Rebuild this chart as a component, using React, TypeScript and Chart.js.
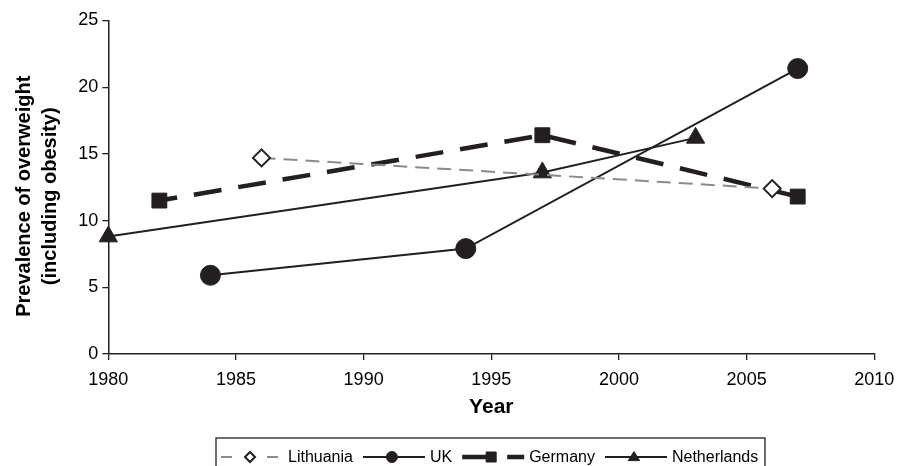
import { useEffect, useRef } from 'react';
import { Chart, registerables } from 'chart.js';

Chart.register(...registerables);

// Survey years and prevalence (%) per country
const lithuaniaYears = [1986, 2006];
const lithuaniaValues = [14.7, 12.4];

const ukYears = [1984, 1994, 2007];
const ukValues = [5.9, 7.9, 21.4];

const germanyYears = [1982, 1997, 2007];
const germanyValues = [11.5, 16.4, 11.8];

const netherlandsYears = [1980, 1997, 2003];
const netherlandsValues = [8.8, 13.6, 16.2];

const xMin = 1980;
const xMax = 2010;
const xStep = 5;
const yMin = 0;
const yMax = 25;
const yStep = 5;

const xTitle = 'Year';
const yTitle = ['Prevalence of overweight', '(including obesity)'];

const INK = '#231f20';
const GREY = '#8a8a8a';
const FONT = '"Liberation Sans", Arial, Helvetica, sans-serif';

const toPoints = (xs: number[], ys: number[]) => xs.map((x, i) => ({ x, y: ys[i] }));

type Marker = 'circle' | 'rect' | 'rectRot' | 'triangle';

function drawMarker(
  ctx: CanvasRenderingContext2D,
  style: Marker,
  x: number,
  y: number,
  r: number,
  fill: string,
  stroke: string,
  lw: number
) {
  ctx.save();
  ctx.setLineDash([]);
  ctx.beginPath();
  if (style === 'circle') {
    ctx.arc(x, y, r, 0, Math.PI * 2);
  } else if (style === 'rect') {
    ctx.rect(x - r, y - r, 2 * r, 2 * r);
  } else if (style === 'rectRot') {
    ctx.moveTo(x - r, y);
    ctx.lineTo(x, y - r);
    ctx.lineTo(x + r, y);
    ctx.lineTo(x, y + r);
    ctx.closePath();
  } else {
    const h = r * 1.5;
    ctx.moveTo(x, y - h * 0.6);
    ctx.lineTo(x + r * 0.95, y + h * 0.4);
    ctx.lineTo(x - r * 0.95, y + h * 0.4);
    ctx.closePath();
  }
  ctx.fillStyle = fill;
  ctx.fill();
  ctx.lineWidth = lw;
  ctx.strokeStyle = stroke;
  ctx.stroke();
  ctx.restore();
}

// Sample line look inside the boxed legend, per series label
const legendLook: Record<string, { dash: number[]; marker: Marker; r: number; fill: string }> = {
  Lithuania: { dash: [11, 35], marker: 'rectRot', r: 5, fill: '#ffffff' },
  UK: { dash: [], marker: 'circle', r: 5.5, fill: INK },
  Germany: { dash: [30, 15], marker: 'rect', r: 5, fill: INK },
  Netherlands: { dash: [], marker: 'triangle', r: 6, fill: INK },
};

const boxLegend = {
  id: 'boxLegend',
  afterDraw(chart: Chart) {
    const ctx = chart.ctx;
    const left = 216;
    const right = 765;
    const top = 438;
    const cy = 457;
    const sample = 62;
    ctx.save();
    ctx.strokeStyle = INK;
    ctx.lineWidth = 1.3;
    ctx.strokeRect(left, top, right - left, 40);
    ctx.font = `16px ${FONT}`;
    ctx.textBaseline = 'middle';
    ctx.textAlign = 'left';
    let x = 221;
    chart.data.datasets.forEach((ds: any) => {
      const look = legendLook[ds.label];
      ctx.save();
      ctx.beginPath();
      ctx.setLineDash(look.dash);
      ctx.strokeStyle = ds.borderColor;
      ctx.lineWidth = ds.borderWidth;
      ctx.moveTo(x, cy);
      ctx.lineTo(x + sample, cy);
      ctx.stroke();
      ctx.restore();
      drawMarker(ctx, look.marker, x + sample / 2 - 2, cy, look.r, look.fill, INK, look.marker === 'rectRot' ? 2 : 1);
      ctx.fillStyle = '#000';
      ctx.fillText(ds.label, x + sample + 5, cy + 1);
      x += sample + 5 + ctx.measureText(ds.label).width + 10;
    });
    ctx.restore();
  },
};

// Two-line rotated title for the value axis, centred a little below the axis middle
const valueAxisTitle = {
  id: 'valueAxisTitle',
  afterDraw(chart: Chart) {
    const ctx = chart.ctx;
    const area = chart.chartArea;
    const cy = (area.top + area.bottom) / 2 + 9;
    ctx.save();
    ctx.font = `bold 20px ${FONT}`;
    ctx.fillStyle = '#000';
    ctx.textAlign = 'center';
    ctx.textBaseline = 'middle';
    ctx.translate(0, cy);
    ctx.rotate(-Math.PI / 2);
    yTitle.forEach((line, i) => {
      ctx.fillText(line, 0, 24 + i * 26);
    });
    ctx.restore();
  },
};

export default function App() {
  const canvasRef = useRef<HTMLCanvasElement | null>(null);

  useEffect(() => {
    if (!canvasRef.current) return;
    const chart = new Chart(canvasRef.current, {
      type: 'line',
      data: {
        datasets: [
          {
            label: 'Lithuania',
            data: toPoints(lithuaniaYears, lithuaniaValues),
            borderColor: GREY,
            borderWidth: 2,
            borderDash: [14, 8],
            pointStyle: 'rectRot',
            pointRadius: 8.5,
            pointBackgroundColor: '#ffffff',
            pointBorderColor: INK,
            pointBorderWidth: 2,
            clip: false,
          },
          {
            label: 'UK',
            data: toPoints(ukYears, ukValues),
            borderColor: INK,
            borderWidth: 2,
            pointStyle: 'circle',
            pointRadius: 10,
            pointBackgroundColor: INK,
            pointBorderColor: INK,
            pointBorderWidth: 1,
            clip: false,
          },
          {
            label: 'Germany',
            data: toPoints(germanyYears, germanyValues),
            borderColor: INK,
            borderWidth: 4.5,
            borderDash: [28, 17],
            borderDashOffset: 10,
            pointStyle: 'rect',
            pointRadius: 10.5,
            pointBackgroundColor: INK,
            pointBorderColor: INK,
            pointBorderWidth: 1,
            clip: false,
          },
          {
            label: 'Netherlands',
            data: toPoints(netherlandsYears, netherlandsValues),
            borderColor: INK,
            borderWidth: 2,
            pointStyle: 'triangle',
            pointRadius: 10.5,
            pointBackgroundColor: INK,
            pointBorderColor: INK,
            pointBorderWidth: 1,
            clip: false,
          },
        ],
      },
      options: {
        responsive: false,
        animation: false,
        events: [],
        layout: { padding: { left: 0, right: 26.7, top: 20.5, bottom: 44 } },
        plugins: {
          legend: { display: false },
          tooltip: { enabled: false },
        },
        scales: {
          x: {
            type: 'linear',
            min: xMin,
            max: xMax,
            afterFit: (s: any) => {
              s.height = 68;
              s.paddingLeft = 0;
              s.paddingRight = 20;
            },
            ticks: {
              stepSize: xStep,
              color: '#000',
              padding: 9,
              font: { family: FONT, size: 18 },
              callback: (v: any) => String(v),
            },
            grid: { drawOnChartArea: false, drawTicks: true, tickLength: 6, color: INK, lineWidth: 1.3 },
            border: { display: true, color: INK, width: 1.5 },
            title: {
              display: true,
              text: xTitle,
              color: '#000',
              font: { family: FONT, size: 21, weight: 'bold' },
              padding: { top: 0, bottom: 2 },
            },
          },
          y: {
            type: 'linear',
            min: yMin,
            max: yMax,
            afterFit: (s: any) => {
              s.width = 108.3;
            },
            ticks: {
              stepSize: yStep,
              color: '#000',
              padding: 4,
              font: { family: FONT, size: 18 },
            },
            grid: { drawOnChartArea: false, drawTicks: true, tickLength: 6, color: INK, lineWidth: 1.3 },
            border: { display: true, color: INK, width: 1.5 },
            title: { display: false },
          },
        },
      },
      plugins: [boxLegend, valueAxisTitle],
    });
    return () => chart.destroy();
  }, []);

  return (
    <div style={{ position: 'fixed', left: 0, top: 0, width: 901, height: 466, background: '#fff' }}>
      <canvas ref={canvasRef} width={901} height={466} />
    </div>
  );
}
